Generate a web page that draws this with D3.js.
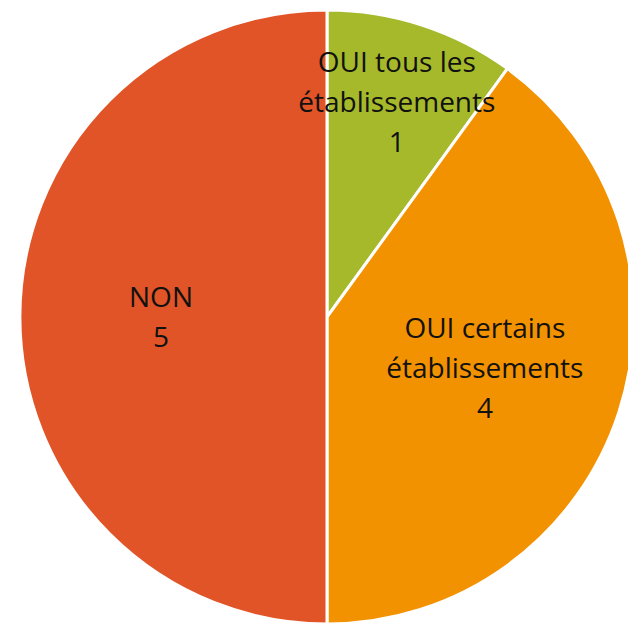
<!DOCTYPE html>
<html>
<head>
<meta charset="utf-8">
<script src="https://cdn.jsdelivr.net/npm/d3@7"></script>
<style>
  body { margin: 0; background: #fff; }
  svg { display: block; }
</style>
</head>
<body>
<div class="svg-container"></div>
<script>
const categories = ['OUI tous les établissements', 'OUI certains établissements', 'NON']
const labelLines = [['OUI tous les', 'établissements'], ['OUI certains', 'établissements'], ['NON']]
const values = [1, 4, 5]
const colors = ['#a6b92b', '#f39200', '#e05427']

const width = 628, height = 624
const cx = 327, cy = 317, radius = 307

const svg = d3.select('.svg-container').append('svg')
  .attr('width', width)
  .attr('height', height)

const g = svg.append('g').attr('transform', `translate(${cx},${cy})`)

const pie = d3.pie().sort(null).value(d => d.value)
const arc = d3.arc().innerRadius(0).outerRadius(radius)

const data = categories.map((c, i) => ({ name: c, value: values[i], lines: labelLines[i], color: colors[i] }))
const arcs = pie(data)

g.selectAll('path')
  .data(arcs)
  .enter()
  .append('path')
  .attr('d', arc)
  .style('fill', d => d.data.color)
  .style('stroke', '#fff')
  .style('stroke-width', 3)

// labels sit closer to the rim on the small slice, like Excel's best fit
const labelArc = d => {
  const r = d.data.value < 2 ? 226 : 166
  return d3.arc().innerRadius(r).outerRadius(r).centroid(d)
}

const lineH = 40
const labels = g.selectAll('.label')
  .data(arcs)
  .enter()
  .append('text')
  .attr('class', 'label')
  .attr('transform', d => 'translate(' + labelArc(d) + ')')
  .attr('text-anchor', 'middle')
  .style('font-family', '"Open Sans", sans-serif')
  .style('font-size', '28px')
  .style('fill', '#111')

labels.each(function(d) {
  const lines = d.data.lines.concat([String(d.data.value)])
  const top = -(lines.length - 1) * lineH / 2
  d3.select(this).selectAll('tspan')
    .data(lines)
    .enter()
    .append('tspan')
    .attr('x', 0)
    .attr('y', (l, i) => top + i * lineH)
    .attr('dy', '0.35em')
    .text(l => l)
})
</script>
</body>
</html>
